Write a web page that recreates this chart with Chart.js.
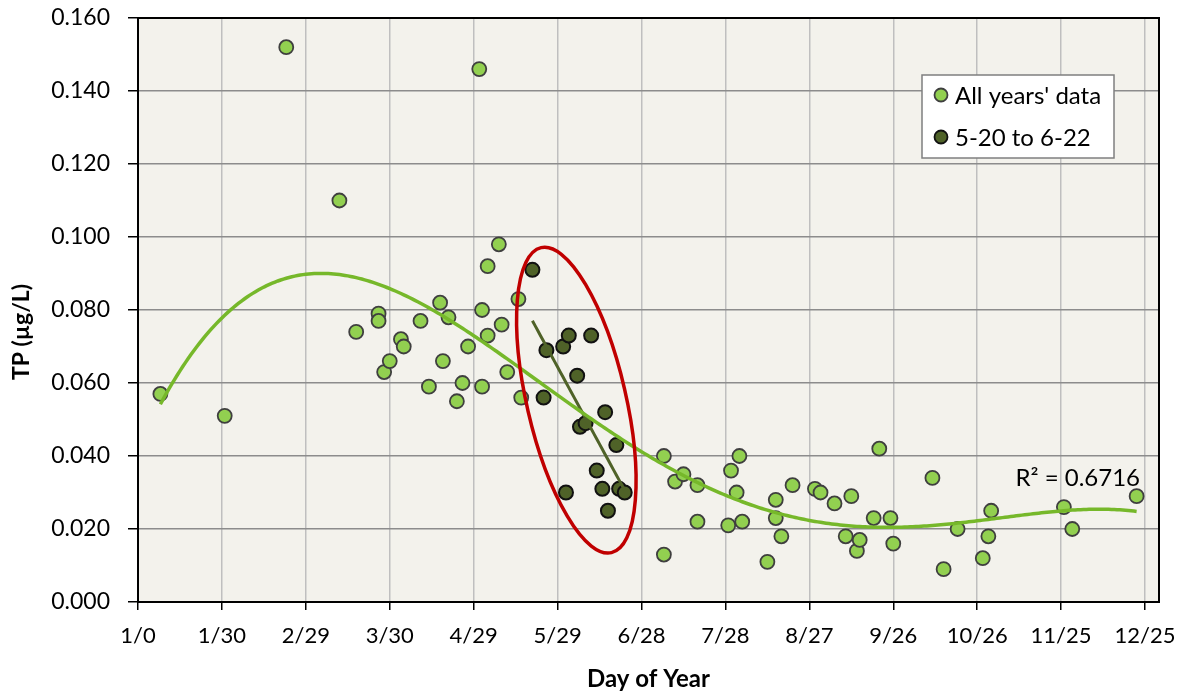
<!DOCTYPE html>
<html>
<head>
<meta charset="utf-8">
<script src="https://cdn.jsdelivr.net/npm/chart.js@4.4.1/dist/chart.umd.min.js"></script>
<style>
  html, body { margin: 0; padding: 0; background: #fff; }
</style>
</head>
<body>
<canvas id="tpChart" width="1182" height="696"></canvas>
<script>
// Day of year and TP (µg/L) for all years
const allDays = [8, 31, 53, 72, 78, 86, 86, 88, 90, 94, 95, 101, 104, 108, 109, 111, 114, 116, 118, 122,
  123, 123, 125, 125, 129, 130, 132, 136, 137, 188, 188, 192, 195, 200, 200, 211, 212, 214, 215, 216,
  225, 228, 228, 230, 234, 242, 244, 249, 253, 255, 257, 258, 263, 265, 269, 270, 284, 288, 293, 302,
  304, 305, 331, 334, 357];
const allTP = [0.057, 0.051, 0.152, 0.110, 0.074, 0.079, 0.077, 0.063, 0.066, 0.072, 0.070, 0.077, 0.059, 0.082, 0.066, 0.078, 0.055, 0.060, 0.070, 0.146,
  0.059, 0.080, 0.092, 0.073, 0.098, 0.076, 0.063, 0.083, 0.056, 0.040, 0.013, 0.033, 0.035, 0.032, 0.022, 0.021, 0.036, 0.030, 0.040, 0.022,
  0.011, 0.028, 0.023, 0.018, 0.032, 0.031, 0.030, 0.027, 0.018, 0.029, 0.014, 0.017, 0.023, 0.042, 0.023, 0.016, 0.034, 0.009, 0.020, 0.012,
  0.018, 0.025, 0.026, 0.020, 0.029];

// 5-20 to 6-22 samples
const lateDays = [141, 145, 146, 152, 153, 154, 157, 158, 160, 162, 164, 166, 167, 168, 171, 172, 174];
const lateTP = [0.091, 0.056, 0.069, 0.070, 0.030, 0.073, 0.062, 0.048, 0.049, 0.073, 0.036, 0.031, 0.052, 0.025, 0.043, 0.031, 0.030];

const xTickLabels = ['1/0', '1/30', '2/29', '3/30', '4/29', '5/29', '6/28', '7/28', '8/27', '9/26', '10/26', '11/25', '12/25'];
const yTicks = [0, 0.02, 0.04, 0.06, 0.08, 0.10, 0.12, 0.14, 0.16];

const FONT = 'Lato, "Open Sans", sans-serif';

// least squares polynomial, like the Excel trendline
function polyFit(xs, ys, deg) {
  const c = 180, n = deg + 1;
  const A = [];
  for (let i = 0; i < n; i++) A.push(new Array(n + 1).fill(0));
  for (let k = 0; k < xs.length; k++) {
    const t = (xs[k] - c) / c;
    const p = [];
    for (let i = 0; i < n; i++) p.push(Math.pow(t, i));
    for (let i = 0; i < n; i++) {
      for (let j = 0; j < n; j++) A[i][j] += p[i] * p[j];
      A[i][n] += p[i] * ys[k];
    }
  }
  for (let i = 0; i < n; i++) {
    let m = i;
    for (let r = i + 1; r < n; r++) if (Math.abs(A[r][i]) > Math.abs(A[m][i])) m = r;
    const tmp = A[i]; A[i] = A[m]; A[m] = tmp;
    for (let r = 0; r < n; r++) {
      if (r === i) continue;
      const f = A[r][i] / A[i][i];
      for (let col = i; col <= n; col++) A[r][col] -= f * A[i][col];
    }
  }
  const coef = A.map((row, i) => row[n] / row[i]);
  return x => {
    const t = (x - c) / c;
    let s = 0;
    for (let i = n - 1; i >= 0; i--) s = s * t + coef[i];
    return s;
  };
}

function trendPoints(xs, ys, deg, step) {
  const f = polyFit(xs, ys, deg);
  const lo = Math.min(...xs), hi = Math.max(...xs);
  const pts = [];
  for (let d = lo; d < hi; d += step) pts.push({ x: d, y: f(d) });
  pts.push({ x: hi, y: f(hi) });
  return pts;
}

const fitDays = allDays.concat(lateDays);
const fitTP = allTP.concat(lateTP);

const allPts = allDays.map((d, i) => ({ x: d, y: allTP[i] }));
const latePts = lateDays.map((d, i) => ({ x: d, y: lateTP[i] }));

// plot background, frame, ellipse, legend, labels
const extras = {
  id: 'extras',
  beforeDraw(chart) {
    const { ctx, chartArea: a } = chart;
    ctx.save();
    ctx.fillStyle = '#F3F2EC';
    ctx.fillRect(a.left, a.top, a.right - a.left, a.bottom - a.top);
    ctx.restore();
  },
  beforeDatasetsDraw(chart) {
    const { ctx, chartArea: a } = chart;
    ctx.save();
    ctx.strokeStyle = '#000';
    ctx.lineWidth = 2;
    ctx.strokeRect(a.left, a.top, a.right - a.left, a.bottom - a.top);
    ctx.restore();
  },
  afterDatasetsDraw(chart) {
    const { ctx, scales } = chart;
    const cx = scales.x.getPixelForValue(156.7);
    const cy = scales.y.getPixelForValue(0.0553);
    ctx.save();
    ctx.strokeStyle = '#C00000';
    ctx.lineWidth = 3.5;
    ctx.beginPath();
    ctx.ellipse(cx, cy, 49.5, 156.5, -13 * Math.PI / 180, 0, Math.PI * 2);
    ctx.stroke();
    ctx.restore();
  },
  afterDraw(chart) {
    const { ctx, chartArea: a, scales } = chart;
    ctx.save();
    // R² label
    ctx.fillStyle = '#000';
    ctx.font = '24px ' + FONT;
    ctx.textBaseline = 'middle';
    ctx.textAlign = 'left';
    ctx.fillText('R² = 0.6716', scales.x.getPixelForValue(313.7), scales.y.getPixelForValue(0.034));

    // legend box
    const lx = a.left + 784, ly = a.top + 57;
    ctx.fillStyle = '#fff';
    ctx.fillRect(lx, ly, 192, 83);
    ctx.strokeStyle = '#7F7F7F';
    ctx.lineWidth = 1.5;
    ctx.strokeRect(lx, ly, 192, 83);
    const items = [
      { text: "All years' data", fill: '#92D050', stroke: '#3F3F3F', y: ly + 20 },
      { text: '5-20 to 6-22', fill: '#4F6228', stroke: '#111', y: ly + 62 }
    ];
    items.forEach(it => {
      ctx.beginPath();
      ctx.arc(lx + 19, it.y, 6.5, 0, Math.PI * 2);
      ctx.fillStyle = it.fill;
      ctx.fill();
      ctx.lineWidth = 1.8;
      ctx.strokeStyle = it.stroke;
      ctx.stroke();
      ctx.fillStyle = '#000';
      ctx.font = '24px ' + FONT;
      ctx.fillText(it.text, lx + 33, it.y + 1);
    });

    // y axis title
    ctx.translate(22, 332);
    ctx.rotate(-Math.PI / 2);
    ctx.textAlign = 'center';
    ctx.font = 'bold 23px ' + FONT;
    ctx.fillText('TP (µg/L)', 0, 0);
    ctx.restore();
  }
};

const config = {
  type: 'scatter',
  data: {
    datasets: [
      {
        label: 'Trend (all)',
        data: trendPoints(fitDays, fitTP, 4, 1),
        showLine: true,
        borderColor: '#76B82A',
        borderWidth: 3.5,
        pointRadius: 0,
        order: 0
      },
      {
        label: 'Trend (5-20 to 6-22)',
        data: trendPoints(lateDays, lateTP, 1, 1),
        showLine: true,
        borderColor: '#4F6228',
        borderWidth: 3,
        pointRadius: 0,
        order: 1
      },
      {
        label: '5-20 to 6-22',
        data: latePts,
        backgroundColor: '#4F6228',
        borderColor: '#111111',
        borderWidth: 2,
        pointRadius: 7,
        order: 2
      },
      {
        label: "All years' data",
        data: allPts,
        backgroundColor: '#92D050',
        borderColor: '#3F3F3F',
        borderWidth: 1.8,
        pointRadius: 7,
        order: 3
      }
    ]
  },
  options: {
    responsive: false,
    animation: false,
    layout: { padding: { top: 18, right: 23, left: 0, bottom: 0 } },
    plugins: {
      legend: { display: false },
      tooltip: { enabled: false }
    },
    scales: {
      x: {
        type: 'linear',
        min: 0,
        max: 365,
        afterBuildTicks: s => { s.ticks = xTickLabels.map((l, i) => ({ value: i * 30 })); },
        afterFit: s => { s.height = 94; s.paddingLeft = 0; s.paddingRight = 0; },
        ticks: {
          callback: v => xTickLabels[Math.round(v / 30)],
          font: { family: FONT, size: 22 },
          color: '#000',
          padding: 13,
          maxRotation: 0,
          autoSkip: false
        },
        grid: { color: '#BFBFBF', lineWidth: 1.5, tickColor: '#000', tickLength: 8, tickWidth: 1.5 },
        border: { color: '#000', width: 2 },
        title: {
          display: true,
          text: 'Day of Year',
          color: '#000',
          font: { family: FONT, size: 24, weight: 'bold' },
          padding: { top: 0, bottom: 2 }
        }
      },
      y: {
        min: 0,
        max: 0.16,
        afterBuildTicks: s => { s.ticks = yTicks.map(v => ({ value: v })); },
        afterFit: s => { s.width = 138; s.paddingTop = 0; s.paddingBottom = 0; },
        ticks: {
          callback: v => v.toFixed(3),
          font: { family: FONT, size: 23 },
          color: '#000',
          padding: 18
        },
        grid: { color: '#8C8C8C', lineWidth: 1.5, tickColor: '#000', tickLength: 10, tickWidth: 1.5 },
        border: { color: '#000', width: 2 }
      }
    }
  },
  plugins: [extras]
};

new Chart(document.getElementById('tpChart').getContext('2d'), config);
</script>
</body>
</html>
